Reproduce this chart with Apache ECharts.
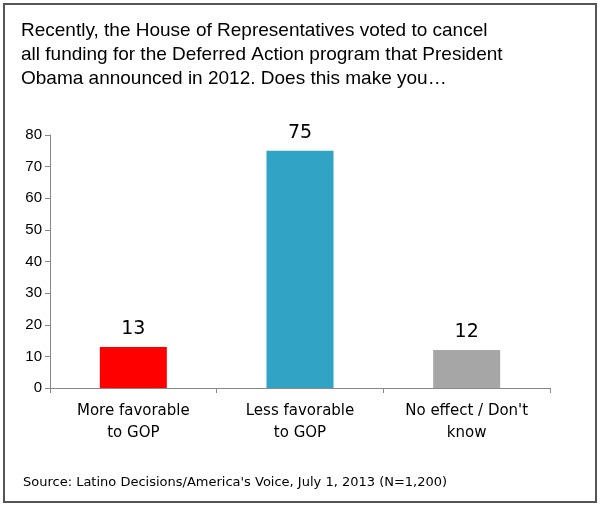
<!DOCTYPE html>
<html>
<head>
<meta charset="utf-8">
<script src="https://cdn.jsdelivr.net/npm/echarts@6/dist/echarts.min.js"></script>
<style>
html,body{margin:0;padding:0;background:#fff;}
#frame{position:absolute;left:3px;top:3px;width:590px;height:496px;border:2px solid #555;}
#chart{position:absolute;left:0;top:0;width:600px;height:505px;}
</style>
</head>
<body>
<div id="frame"></div>
<div id="chart"></div>
<script>
var categories = ['More favorable\nto GOP', 'Less favorable\nto GOP', "No effect / Don't\nknow"];
var values = [13, 75, 12];
var barColors = ['#FF0000', '#31A3C4', '#A6A6A6'];

var myChart = echarts.init(document.getElementById('chart'));
var option = {
    animation: false,
    title: [{
        text: 'Recently, the House of Representatives voted to cancel\nall funding for the Deferred Action program that President\nObama announced in 2012. Does this make you\u2026',
        left: 16, top: 14,
        textStyle: {fontFamily: 'Liberation Sans', fontSize: 19, fontWeight: 'normal', color: '#000', lineHeight: 24}
    }, {
        text: "Source: Latino Decisions/America's Voice, July 1, 2013 (N=1,200)",
        left: 18, top: 471,
        textStyle: {fontFamily: 'DejaVu Sans', fontSize: 13, fontWeight: 'normal', color: '#000'}
    }],
    grid: {left: 50, right: 50, top: 135, bottom: 117},
    xAxis: {
        type: 'category',
        data: categories,
        axisLine: {lineStyle: {color: '#888'}},
        axisTick: {show: true, alignWithLabel: false, lineStyle: {color: '#888'}},
        axisLabel: {interval: 0, fontFamily: 'DejaVu Sans', fontSize: 15, color: '#000', lineHeight: 22, margin: 12}
    },
    yAxis: {
        type: 'value', min: 0, max: 80, interval: 10,
        splitLine: {show: false},
        axisLine: {show: true, lineStyle: {color: '#888'}},
        axisTick: {show: true, lineStyle: {color: '#888'}},
        axisLabel: {fontFamily: 'Liberation Sans', fontSize: 15, color: '#000'}
    },
    series: [{
        type: 'bar',
        barWidth: 67,
        data: values.map(function (v, i) { return {value: v, itemStyle: {color: barColors[i]}}; }),
        label: {show: true, position: 'top', distance: 8, fontFamily: 'DejaVu Sans', fontSize: 19, color: '#000'}
    }]
};
myChart.setOption(option);
</script>
</body>
</html>
